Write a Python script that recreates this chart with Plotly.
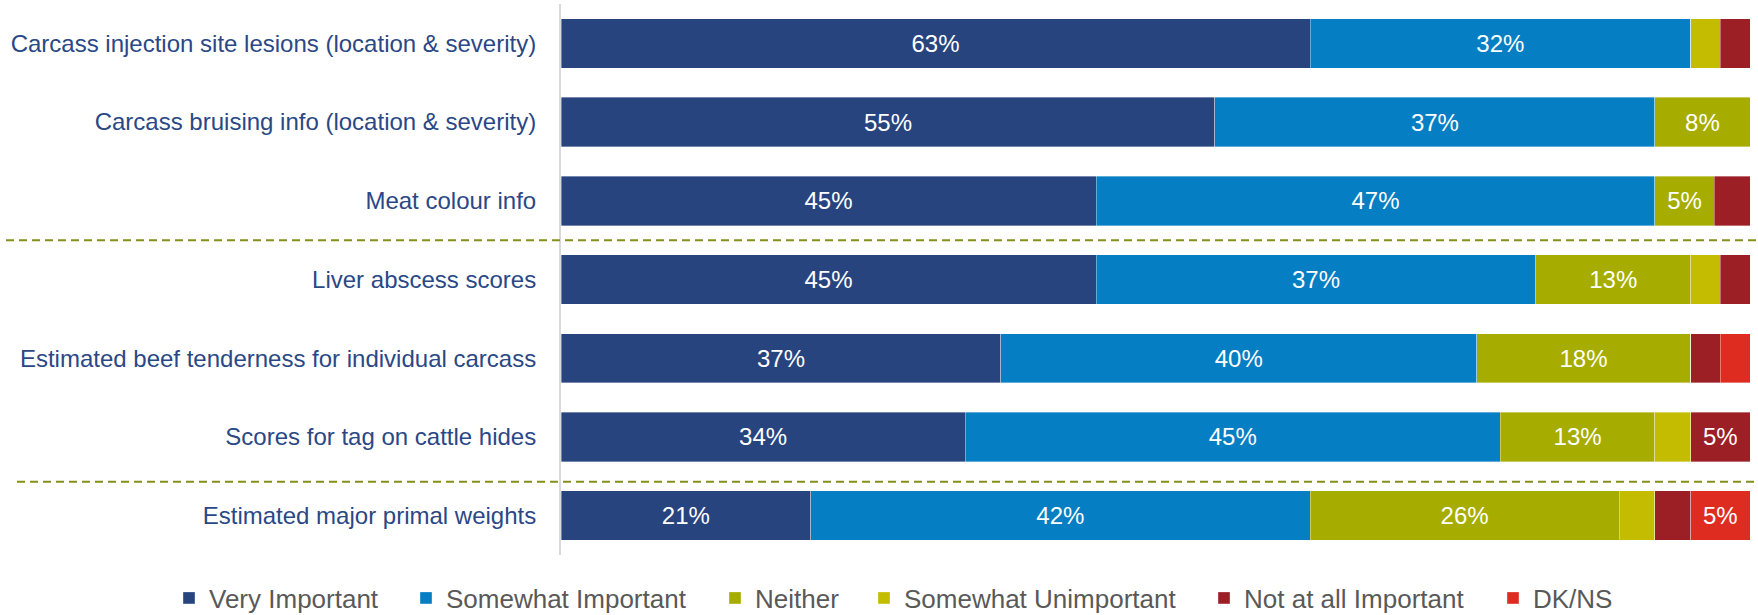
import plotly.graph_objects as go

# Survey items (top to bottom)
categories = [
    "Carcass injection site lesions (location & severity)",
    "Carcass bruising info (location & severity)",
    "Meat colour info",
    "Liver abscess scores",
    "Estimated beef tenderness for individual carcass",
    "Scores for tag on cattle hides",
    "Estimated major primal weights",
]

# Share of respondents (%) per response
very_important = [63, 55, 45, 45, 37, 34, 21]
somewhat_important = [32, 37, 47, 37, 40, 45, 42]
neither = [0, 8, 5, 13, 18, 13, 26]
somewhat_unimportant = [2.5, 0, 0, 2.5, 0, 3, 3]
not_at_all_important = [2.5, 0, 3, 2.5, 2.5, 5, 3]
dk_ns = [0, 0, 0, 0, 2.5, 0, 5]

series = [
    ("Very Important", very_important, "#27447F"),
    ("Somewhat Important", somewhat_important, "#057EC3"),
    ("Neither", neither, "#A6AD00"),
    ("Somewhat Unimportant", somewhat_unimportant, "#C4BC00"),
    ("Not at all Important", not_at_all_important, "#9C1F26"),
    ("DK/NS", dk_ns, "#DE2C20"),
]

# Left pixel of each legend swatch along the bottom row
legend_swatch_x = [186, 423, 732, 881, 1221, 1510]

FONT = "Arial, Liberation Sans, sans-serif"
WIDTH, HEIGHT = 1758, 615

fig = go.Figure()
legend_layouts = {}
for i, (name, values, color) in enumerate(series):
    legend_id = "legend" if i == 0 else f"legend{i + 1}"
    labels = [f"{v:.0f}%" if v >= 5 else "" for v in values]
    fig.add_trace(go.Bar(
        y=categories,
        x=values,
        name=name,
        orientation="h",
        legend=legend_id,
        marker=dict(color=color, line=dict(color="rgba(255,255,255,0.45)", width=0.8)),
        text=labels,
        textposition="inside",
        insidetextanchor="middle",
        textangle=0,
        constraintext="none",
        insidetextfont=dict(family=FONT, size=24, color="white"),
        hoverinfo="x+y+name",
    ))
    # one single-entry legend per series, laid out in a row
    legend_layouts[legend_id] = dict(
        orientation="h",
        xref="container", yref="container",
        x=(legend_swatch_x[i] - 17) / WIDTH, xanchor="left",
        y=1 - 598 / HEIGHT, yanchor="middle",
        font=dict(family=FONT, size=26, color="#595959"),
        bgcolor="rgba(0,0,0,0)",
    )

# Dashed separators between item groups
group_breaks = [(2.5, 6), (5.57, 17)]
plot_left, plot_right = 561, 1750
for ypos, xstart in group_breaks:
    fig.add_shape(
        type="line", xref="paper", yref="y",
        x0=(xstart - plot_left) / (plot_right - plot_left),
        x1=(WIDTH - plot_left) / (plot_right - plot_left),
        y0=ypos, y1=ypos,
        line=dict(color="#84901A", width=2, dash="8px,5px"),
        layer="above",
    )

fig.update_layout(
    width=WIDTH, height=HEIGHT,
    margin=dict(l=561, r=8, t=4, b=60),
    barmode="stack",
    bargap=0.372,
    plot_bgcolor="white",
    paper_bgcolor="white",
    font=dict(family=FONT, size=24, color="#595959"),
    showlegend=True,
    xaxis=dict(
        range=[0, 100],
        visible=False,
        showgrid=False,
        zeroline=False,
    ),
    yaxis=dict(
        autorange="reversed",
        showline=True,
        linecolor="#D9D9D9",
        linewidth=2,
        showgrid=False,
        ticks="",
        ticklabelstandoff=18,
        tickfont=dict(family=FONT, size=24, color="#2A4886"),
    ),
    **legend_layouts,
)

fig.write_html("out.html")
